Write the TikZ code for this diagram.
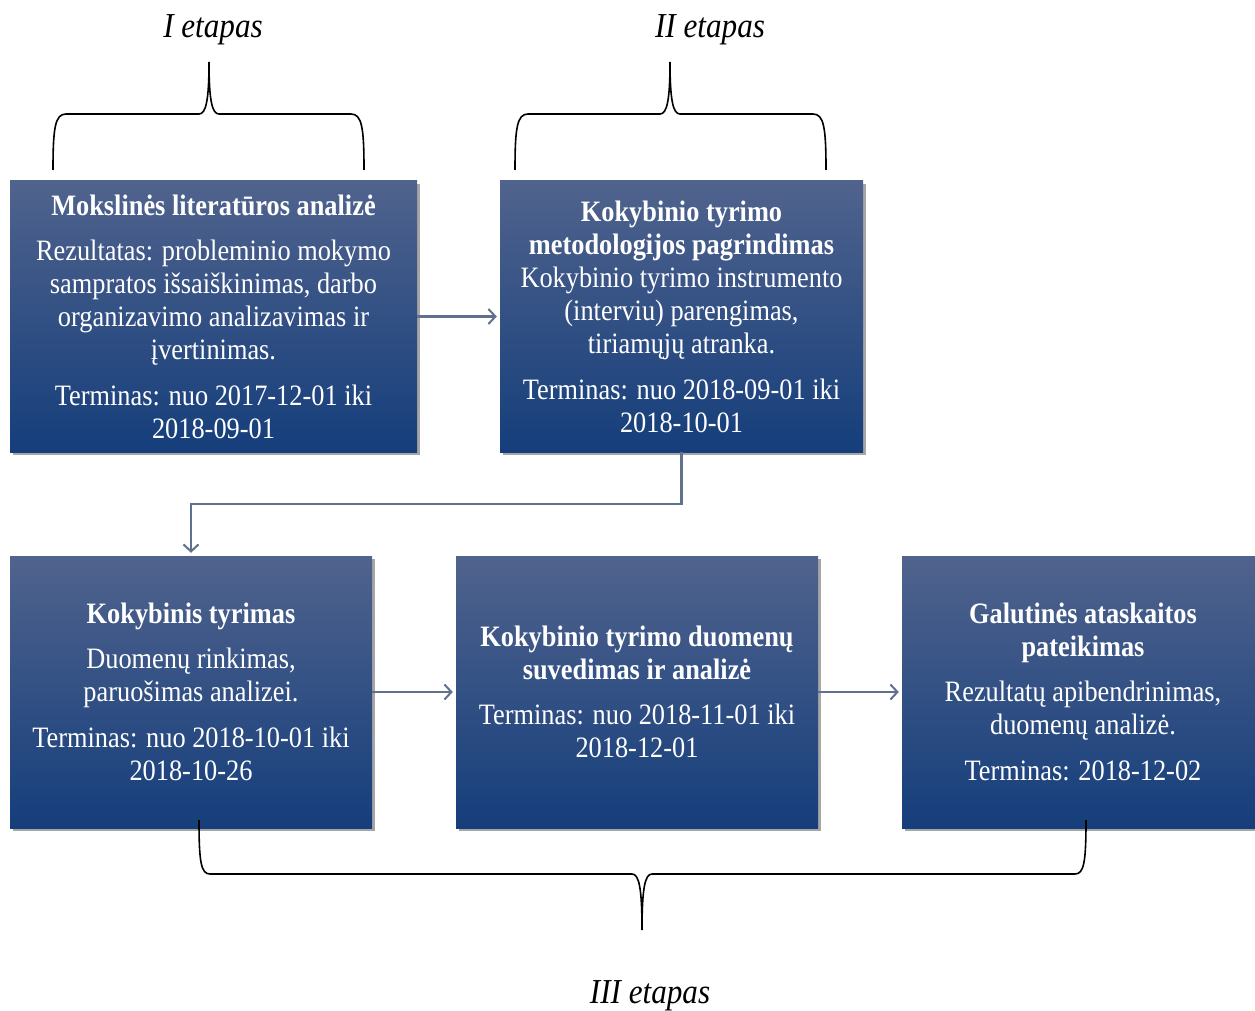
\documentclass[tikz,border=0pt]{standalone}
\usepackage{fontspec}
\setmainfont{Liberation Serif}[FakeStretch=0.89]
\usetikzlibrary{arrows.meta,shadows}
\definecolor{boxtop}{RGB}{80,99,141}
\definecolor{boxbot}{RGB}{21,62,123}
\definecolor{conncol}{RGB}{95,113,143}
\tikzset{
  stagebox/.style={rectangle, inner sep=0pt, top color=boxtop, bottom color=boxbot,
    draw=none, text=white, align=center, minimum height=271pt,
    font=\fontsize{29.6}{33}\selectfont,
    drop shadow={shadow xshift=2.5pt,shadow yshift=-3pt,opacity=0.35,fill=black}},
  conn/.style={draw=conncol, line width=2.2pt, -{Straight Barb[length=7pt,width=15pt,line width=2pt]}, shorten >=3pt},
  bracepath/.style={draw=black, line width=1.6pt},
  stagelabel/.style={font=\fontsize{35}{40}\selectfont\itshape, inner sep=0pt}
}
\begin{document}
\begin{tikzpicture}[x=1pt,y=-1pt]
\useasboundingbox (0,0) rectangle (1255,1011);
\clip (0,0) rectangle (1255,1011);

\node[stagebox, minimum width=407pt] (b1) at (213.5,316.5)
  {\textbf{Mokslinės literatūros analizė}\\[12pt]
   Rezultatas: probleminio mokymo\\ sampratos išsaiškinimas, darbo\\ organizavimo analizavimas ir\\ įvertinimas.\\[13pt]
   Terminas: nuo 2017-12-01 iki\\ 2018-09-01};
\node[stagebox, minimum width=363pt] (b2) at (681.5,316.5)
  {\textbf{Kokybinio tyrimo}\\ \textbf{metodologijos pagrindimas}\\
   Kokybinio tyrimo instrumento\\ (interviu) parengimas,\\ tiriamųjų atranka.\\[13pt]
   Terminas: nuo 2018-09-01 iki\\ 2018-10-01};
\node[stagebox, minimum width=362pt, minimum height=272pt] (b3) at (191,692)
  {\textbf{Kokybinis tyrimas}\\[12pt]
   Duomenų rinkimas,\\ paruošimas analizei.\\[13pt]
   Terminas: nuo 2018-10-01 iki\\ 2018-10-26};
\node[stagebox, minimum width=362pt, minimum height=272pt] (b4) at (637,692)
  {\textbf{Kokybinio tyrimo duomenų}\\ \textbf{suvedimas ir analizė}\\[12pt]
   Terminas: nuo 2018-11-01 iki\\ 2018-12-01};
\node[stagebox, minimum width=362pt, minimum height=272pt] (b5) at (1083,692)
  {\textbf{Galutinės ataskaitos}\\ \textbf{pateikimas}\\[12pt]
   Rezultatų apibendrinimas,\\ duomenų analizė.\\[13pt]
   Terminas: 2018-12-02};

% connectors
\coordinate (mid) at (0,504);
\draw[conn] (b1.east) -- (b2.west);
\draw[conn] (b2.south) -- (b2.south |- mid) -| (b3.north);
\draw[conn] (b3.east) -- (b4.west);
\draw[conn] (b4.east) -- (b5.west);

% braces
\draw[bracepath] (53,170) .. controls (53,128) and (55,114) .. (66,114) -- (199,114)
  .. controls (206,114) and (209,100) .. (209,62)
  .. controls (209,100) and (212,114) .. (219,114) -- (351,114)
  .. controls (362,114) and (364,128) .. (364,170);
\draw[bracepath] (515,170) .. controls (515,128) and (517,114) .. (528,114) -- (660,114)
  .. controls (667,114) and (670,100) .. (670,62)
  .. controls (670,100) and (673,114) .. (680,114) -- (813,114)
  .. controls (824,114) and (826,128) .. (826,170);
\draw[bracepath] (199,820) .. controls (199,862) and (201,874) .. (210,874) -- (632,874)
  .. controls (639,874) and (642,888) .. (642,930)
  .. controls (642,888) and (645,874) .. (652,874) -- (1075,874)
  .. controls (1084,874) and (1086,862) .. (1086,820);

% labels
\node[stagelabel] (l1) at (213,30) {I etapas};
\node[stagelabel] (l2) at (710,30) {II etapas};
\node[stagelabel] (l3) at (650,996) {III etapas};
\end{tikzpicture}
\end{document}
